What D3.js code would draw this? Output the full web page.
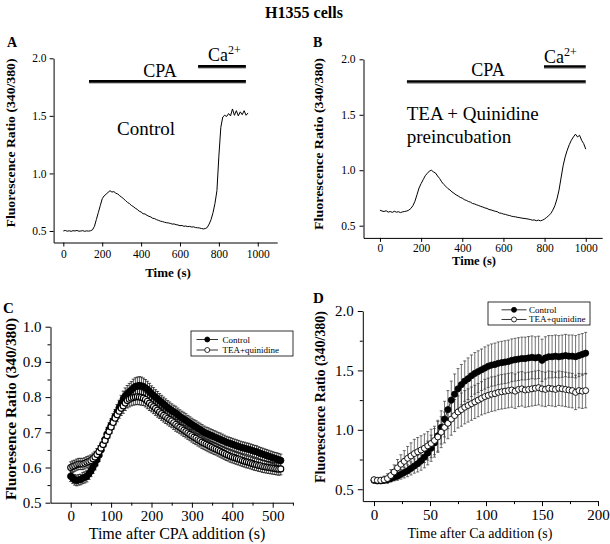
<!DOCTYPE html>
<html><head><meta charset="utf-8">
<script src="https://cdn.jsdelivr.net/npm/d3@7"></script>
<style>
body{margin:0;background:#fff}
text{font-family:"Liberation Serif","Times New Roman",serif;fill:#000}
</style>
</head><body>
<svg id="chart" width="610" height="544"></svg>
<script>
// ---------- DATA ----------
const timeA = [0,10,20,30,40,50,60,70,80,90,100,110,120,130,140,150,160,170,180,190,200,210,220,230,240,250,260,270,280,290,300,310,320,330,340,350,360,370,380,390,400,410,420,430,440,450,460,470,480,490,500,510,520,530,540,550,560,570,580,590,600,610,620,630,640,650,660,670,680,690,700,710,720,730,740,750,760,770,780,790,800,810,820,830,840,850,860,870,880,890,900,910,920,930,940,950];
const ratioA = [.500,.505,.498,.502,.497,.503,.500,.505,.498,.500,.503,.497,.501,.499,.502,
  .510,.540,.600,.660,.720,.780,.805,.820,.835,.850,.838,.842,.828,.822,.805,
  .795,.778,.765,.748,.738,.722,.712,.698,.688,.672,.665,.650,.648,.636,.628,
  .622,.610,.607,.598,.592,.585,.582,.576,.572,.570,.566,.560,.561,.555,.552,
  .546,.548,.541,.543,.538,.540,.534,.536,.530,.528,.526,.522,.518,.521,.530,
  .560,.600,.660,.740,.850,1.150,1.400,1.490,1.505,1.495,1.520,1.500,1.560,1.505,1.545,
  1.500,1.535,1.510,1.545,1.505,1.525];
const timeB = [0,10,20,30,40,50,60,70,80,90,100,110,120,130,140,150,160,170,180,190,200,210,220,230,240,250,260,270,280,290,300,310,320,330,340,350,360,370,380,390,400,410,420,430,440,450,460,470,480,490,500,510,520,530,540,550,560,570,580,590,600,610,620,630,640,650,660,670,680,690,700,710,720,730,740,750,760,770,780,790,800,810,820,830,840,850,860,870,880,890,900,910,920,930,940,950,960,970,980,990,1000];
const ratioB = [.640,.632,.628,.635,.622,.628,.620,.630,.622,.626,.618,.625,.628,.632,.640,
  .655,.680,.720,.780,.840,.880,.915,.950,.972,.992,1.000,.985,.975,.948,.925,
  .895,.872,.855,.835,.822,.805,.792,.778,.768,.755,.748,.735,.728,.718,.712,
  .700,.696,.688,.682,.674,.668,.660,.656,.646,.642,.636,.630,.626,.615,.612,
  .605,.602,.595,.592,.585,.582,.579,.575,.572,.568,.566,.563,.560,.556,.550,
  .552,.545,.550,.544,.550,.560,.575,.590,.610,.640,.680,.740,.820,.930,1.040,
  1.120,1.180,1.230,1.270,1.300,1.325,1.300,1.315,1.270,1.240,1.190];
// annotation bars [start s, end s, ratio level]
const cpaBarA = [132, 939, 1.80], caBarA = [693, 939, 1.93];
const cpaBarB = [131, 1000, 1.80], caBarB = [797, 1000, 1.935];

const timeC = [0,5,10,15,20,25,30,35,40,45,50,55,60,65,70,75,80,85,90,95,
  100,105,110,115,120,125,130,135,140,145,150,155,160,165,170,175,180,185,190,195,
  200,205,210,215,220,225,230,235,240,245,250,255,260,265,270,275,280,285,290,295,
  300,305,310,315,320,325,330,335,340,345,350,355,360,365,370,375,380,385,390,395,
  400,405,410,415,420,425,430,435,440,445,450,455,460,465,470,475,480,485,490,495,
  500,505,510,515,520];
const controlC = [.575,.570,.565,.563,.565,.566,.570,.572,.575,.582,
  .590,.600,.610,.622,.635,.650,.665,.680,.695,.708,
  .720,.733,.745,.758,.770,.783,.795,.803,.810,.815,
  .820,.826,.830,.832,.833,.832,.830,.826,.822,.816,
  .810,.805,.800,.795,.790,.785,.780,.775,.770,.766,
  .762,.758,.755,.750,.745,.741,.738,.734,.730,.726,
  .722,.718,.715,.711,.708,.704,.700,.697,.695,.692,
  .690,.687,.685,.682,.680,.677,.675,.672,.670,.668,
  .666,.664,.662,.660,.658,.656,.655,.653,.652,.650,
  .648,.646,.645,.642,.640,.638,.636,.634,.632,.630,
  .628,.626,.624,.622,.620];
const teaC = [.600,.603,.605,.608,.610,.610,.610,.612,.615,.617,
  .620,.625,.630,.637,.645,.655,.665,.677,.690,.702,
  .715,.728,.740,.750,.760,.768,.775,.783,.790,.794,
  .797,.799,.800,.801,.800,.799,.797,.793,.788,.783,
  .778,.773,.768,.763,.758,.753,.748,.744,.740,.736,
  .732,.727,.722,.718,.714,.710,.706,.702,.698,.694,
  .690,.686,.683,.679,.676,.672,.669,.666,.663,.660,
  .657,.654,.652,.649,.646,.643,.640,.637,.635,.632,
  .630,.628,.626,.624,.622,.620,.618,.616,.615,.613,
  .611,.609,.608,.606,.605,.603,.602,.601,.600,.599,
  .598,.597,.596,.595,.596];
const controlErrC = [.015,.015,.015,.015,.015,.015,.016,.016,.016,.016,
  .016,.017,.017,.017,.018,.018,.018,.018,.019,.019,
  .019,.020,.020,.021,.021,.022,.022,.023,.023,.024,
  .024,.025,.025,.025,.025,.025,.024,.024,.023,.023,
  .022,.022,.021,.021,.020,.020,.020,.020,.020,.020,
  .019,.019,.019,.019,.019,.019,.019,.019,.018,.018,
  .018,.018,.018,.018,.018,.018,.018,.018,.018,.018,
  .018,.018,.018,.018,.018,.018,.017,.017,.017,.017,
  .017,.017,.017,.017,.017,.017,.017,.017,.017,.017,
  .017,.017,.017,.017,.017,.017,.017,.017,.017,.017,
  .017,.017,.018,.018,.018];
const teaErrC = [.016,.016,.016,.016,.016,.016,.016,.016,.016,.016,
  .016,.016,.016,.017,.017,.017,.017,.018,.018,.018,
  .018,.019,.019,.020,.020,.020,.021,.021,.021,.022,
  .022,.022,.022,.022,.022,.022,.021,.021,.021,.021,
  .020,.020,.020,.020,.019,.019,.019,.019,.019,.019,
  .019,.019,.019,.018,.018,.018,.018,.018,.018,.018,
  .018,.018,.018,.018,.018,.018,.018,.018,.018,.018,
  .017,.017,.017,.017,.017,.017,.017,.017,.017,.017,
  .017,.017,.017,.017,.017,.017,.017,.017,.017,.017,
  .017,.017,.017,.017,.017,.017,.017,.017,.017,.017,
  .017,.017,.017,.017,.017];

const timeD = [0,3,6,9,12,15,18,21,24,27,30,33,36,39,42,45,48,51,54,57,60,63,66,69,72,75,78,81,84,87,90,93,96,99,102,105,108,111,114,117,120,123,126,129,132,135,138,141,144,147,150,153,156,159,162,165,168,171,174,177,180,183,186,189];
const controlD = [.575,.570,.570,.575,.580,.590,.600,.610,.625,.640,
  .655,.675,.695,.715,.740,.770,.805,.845,.890,.950,
  1.020,1.090,1.170,1.250,1.300,1.345,1.380,1.410,1.430,1.455,
  1.475,1.490,1.505,1.520,1.535,1.545,1.550,1.560,1.565,1.570,
  1.575,1.585,1.590,1.595,1.600,1.600,1.605,1.610,1.605,1.610,
  1.585,1.605,1.615,1.615,1.620,1.615,1.620,1.625,1.620,1.620,
  1.615,1.625,1.635,1.645];
const teaD = [.580,.575,.575,.580,.590,.615,.645,.680,.710,.735,
  .760,.780,.800,.815,.830,.845,.865,.885,.910,.940,
  .980,1.020,1.055,1.090,1.120,1.150,1.170,1.190,1.205,1.220,
  1.235,1.250,1.265,1.280,1.290,1.300,1.305,1.315,1.320,1.325,
  1.330,1.335,1.325,1.340,1.345,1.335,1.340,1.345,1.350,1.355,
  1.345,1.340,1.350,1.345,1.340,1.350,1.345,1.340,1.335,1.330,
  1.315,1.330,1.325,1.330];
const controlErrD = [.015,.015,.020,.020,.025,.030,.030,.035,.040,.045,
  .050,.055,.060,.070,.080,.090,.100,.110,.120,.130,
  .140,.150,.160,.160,.170,.170,.170,.170,.175,.175,
  .175,.175,.175,.178,.178,.178,.180,.180,.180,.180,
  .180,.180,.180,.180,.180,.180,.180,.180,.178,.178,
  .178,.178,.178,.178,.178,.178,.178,.178,.178,.178,
  .178,.178,.175,.175];
const teaErrD = [.020,.020,.025,.030,.040,.050,.060,.070,.080,.090,
  .100,.110,.120,.120,.120,.120,.120,.120,.120,.130,
  .130,.130,.130,.135,.135,.135,.140,.140,.140,.140,
  .140,.140,.140,.145,.145,.145,.145,.145,.145,.145,
  .145,.145,.145,.145,.145,.145,.145,.145,.145,.145,
  .145,.145,.145,.145,.145,.145,.145,.145,.145,.145,
  .145,.145,.145,.145];

const ticksAB_x = [0,200,400,600,800,1000];
const ticksAB_y = [0.5,1.0,1.5,2.0];
const ticksC_x = [0,100,200,300,400,500], minorC_x = [50,150,250,350,450,550];
const ticksC_y = [0.5,0.6,0.7,0.8,0.9,1.0], minorC_y = [0.55,0.65,0.75,0.85,0.95];
const ticksD_x = [0,50,100,150,200], minorD_x = [25,75,125,175];
const ticksD_y = [0.5,1.0,1.5,2.0], minorD_y = [0.75,1.25,1.75];
const seriesNames = ["Control","TEA+quinidine"];

// ---------- DRAW ----------
const svg = d3.select("#chart");
const f1 = d3.format(".1f");

svg.append("text").attr("x",304).attr("y",18).attr("text-anchor","middle")
  .attr("font-size",16).attr("font-weight","bold").text("H1355 cells");

function axes(g, x, y, o){
  const xb = y.range()[0], xl = x.range()[0];
  const ax = g.append("g").attr("transform",`translate(0,${xb})`)
    .call(d3.axisBottom(x).tickValues(o.xt).tickFormat(d=>d).tickSize(o.ts).tickSizeOuter(0).tickPadding(o.xpad));
  const ay = g.append("g").attr("transform",`translate(${xl},0)`)
    .call(d3.axisLeft(y).tickValues(o.yt).tickFormat(f1).tickSize(o.ts).tickSizeOuter(0).tickPadding(o.ypad));
  [ax,ay].forEach(a=>{
    a.attr("font-family",null);
    a.selectAll("text").attr("font-size",o.fs).attr("fill","#000");
    a.selectAll("line,path").attr("stroke","#000").attr("stroke-width",1);
  });
  if(o.mx){
    g.append("g").attr("transform",`translate(0,${xb})`)
      .call(d3.axisBottom(x).tickValues(o.mx.filter(v=>v>=x.domain()[0]&&v<=x.domain()[1])).tickFormat("").tickSize(3).tickSizeOuter(0))
      .call(s=>{s.select(".domain").remove(); s.selectAll("line").attr("stroke","#000");});
    g.append("g").attr("transform",`translate(${xl},0)`)
      .call(d3.axisLeft(y).tickValues(o.my).tickFormat("").tickSize(3).tickSizeOuter(0))
      .call(s=>{s.select(".domain").remove(); s.selectAll("line").attr("stroke","#000");});
  }
}

function ylab(txt, x, y, fs, len){
  svg.append("text").attr("transform",`translate(${x},${y}) rotate(-90)`)
    .attr("text-anchor","middle").attr("font-size",fs).attr("font-weight","bold")
    .attr("textLength",len).attr("lengthAdjust","spacingAndGlyphs").text(txt);
}
function txt(s, x, y, fs, opts={}){
  const t = svg.append("text").attr("x",x).attr("y",y).attr("font-size",fs).text(s);
  if(opts.bold) t.attr("font-weight","bold");
  if(opts.anchor) t.attr("text-anchor",opts.anchor);
  return t;
}
function caText(x, y){
  const t = svg.append("text").attr("x",x).attr("y",y).attr("font-size",18);
  t.append("tspan").text("Ca");
  t.append("tspan").attr("font-size",12).attr("dy",-7).text("2+");
}
function bar(x, y, b){
  svg.append("line").attr("x1",x(b[0])).attr("x2",x(b[1])).attr("y1",y(b[2])+1.8).attr("y2",y(b[2])+1.8)
    .attr("stroke","#aaa").attr("stroke-width",1.2);
  svg.append("line").attr("x1",x(b[0])).attr("x2",x(b[1])).attr("y1",y(b[2])).attr("y2",y(b[2]))
    .attr("stroke","#000").attr("stroke-width",2.6);
}

// Panel A
{
  const x = d3.scaleLinear().domain([-50,1100]).range([53.6,277.2]);
  const y = d3.scaleLinear().domain([0.4,2.0]).range([242.5,58.3]);
  const g = svg.append("g");
  axes(g,x,y,{xt:ticksAB_x,yt:ticksAB_y,ts:4,xpad:3,ypad:3,fs:11.5});
  g.append("path").datum(timeA.map((t,i)=>[t,ratioA[i]]))
    .attr("d",d3.line().x(d=>x(d[0])).y(d=>y(d[1])))
    .attr("fill","none").attr("stroke","#000").attr("stroke-width",1);
  bar(x,y,cpaBarA); bar(x,y,caBarA);
  txt("CPA", x(497), y(1.84), 18, {anchor:"middle"});
  caText(x(744), y(1.98));
  txt("Control", x(276), y(1.334), 19);
  txt("A", 7, 47, 14, {bold:true});
  ylab("Fluorescence Ratio (340/380)", 14.5, 143, 13, 169);
  txt("Time (s)", 168, 277, 13, {bold:true, anchor:"middle"});
}
// Panel B
{
  const x = d3.scaleLinear().domain([-80,1080]).range([363.5,602.2]);
  const y = d3.scaleLinear().domain([0.39,2.0]).range([237.9,59.3]);
  const g = svg.append("g");
  axes(g,x,y,{xt:ticksAB_x,yt:ticksAB_y,ts:4,xpad:1.5,ypad:4,fs:11.5});
  g.append("path").datum(timeB.map((t,i)=>[t,ratioB[i]]))
    .attr("d",d3.line().x(d=>x(d[0])).y(d=>y(d[1])))
    .attr("fill","none").attr("stroke","#000").attr("stroke-width",1);
  bar(x,y,cpaBarB); bar(x,y,caBarB);
  txt("CPA", x(525), y(1.845), 18, {anchor:"middle"});
  caText(x(797), y(1.967));
  txt("TEA + Quinidine", x(130), y(1.453), 19);
  txt("preincubation", x(130), y(1.244), 19);
  txt("B", 313, 47, 14, {bold:true});
  ylab("Fluorescence Ratio (340/380)", 323, 144, 13, 172);
  txt("Time (s)", 474, 265, 12.5, {bold:true, anchor:"middle"});
}

function errBars(g, x, y, data, cap, ecol){
  const eg = g.append("g").attr("stroke",ecol).attr("stroke-width",0.7);
  data.forEach(d=>{
    eg.append("line").attr("x1",x(d.t)).attr("x2",x(d.t)).attr("y1",y(d.v-d.e)).attr("y2",y(d.v+d.e));
    eg.append("line").attr("x1",x(d.t)-cap).attr("x2",x(d.t)+cap).attr("y1",y(d.v+d.e)).attr("y2",y(d.v+d.e));
    eg.append("line").attr("x1",x(d.t)-cap).attr("x2",x(d.t)+cap).attr("y1",y(d.v-d.e)).attr("y2",y(d.v-d.e));
  });
}
function symbols(g, x, y, data, filled, r, sw){
  g.append("path").datum(data).attr("d",d3.line().x(d=>x(d.t)).y(d=>y(d.v)))
    .attr("fill","none").attr("stroke","#000").attr("stroke-width",0.8);
  g.selectAll(null).data(data).enter().append("circle")
    .attr("cx",d=>x(d.t)).attr("cy",d=>y(d.v)).attr("r",r)
    .attr("fill",filled?"#000":"#fff").attr("stroke","#000").attr("stroke-width",sw);
}
const rows = (t,v,e)=>t.map((tt,i)=>({t:tt,v:v[i],e:e[i]}));
function legend(x0, y0, w, h, fs, lineOff, lineLen, textOff){
  const g = svg.append("g");
  g.append("rect").attr("x",x0).attr("y",y0).attr("width",w).attr("height",h)
    .attr("fill","#fff").attr("stroke","#000").attr("stroke-width",0.8);
  seriesNames.forEach((n,i)=>{
    const yy = y0 + h*(0.34 + i*0.42);
    g.append("line").attr("x1",x0+lineOff).attr("x2",x0+lineOff+lineLen).attr("y1",yy).attr("y2",yy).attr("stroke","#000").attr("stroke-width",0.8);
    g.append("circle").attr("cx",x0+lineOff+lineLen/2).attr("cy",yy).attr("r",2.5)
      .attr("fill",i===0?"#000":"#fff").attr("stroke","#000").attr("stroke-width",0.8);
    g.append("text").attr("x",x0+textOff).attr("y",yy+3).attr("font-size",fs).text(n);
  });
}

// Panel C
{
  const x = d3.scaleLinear().domain([-50,550]).range([50.5,292.9]);
  const y = d3.scaleLinear().domain([0.5,1.0]).range([502.7,326.7]);
  const g = svg.append("g");
  axes(g,x,y,{xt:ticksC_x,yt:ticksC_y,ts:5,xpad:3,ypad:4,fs:15,mx:minorC_x,my:minorC_y});
  const c = rows(timeC,controlC,controlErrC), t = rows(timeC,teaC,teaErrC);
  errBars(g,x,y,c,1.6,"#000");
  symbols(g,x,y,c,true,3.2,0.8);
  errBars(g,x,y,t,1.6,"#000");
  symbols(g,x,y,t,false,3.0,1.1);
  legend(191,331,102,25,9,5.5,21.5,31.5);
  txt("C", 3, 313, 15, {bold:true});
  ylab("Fluoresence Ratio (340/380)", 15.5, 409, 15.5, 182);
  txt("Time after CPA addition (s)", 177, 539, 16, {anchor:"middle"});
}
// Panel D
{
  const x = d3.scaleLinear().domain([-10,200]).range([362.8,598]);
  const y = d3.scaleLinear().domain([0.4,2.0]).range([501.1,311]);
  const g = svg.append("g");
  axes(g,x,y,{xt:ticksD_x,yt:ticksD_y,ts:5,xpad:3,ypad:4,fs:15,mx:minorD_x,my:minorD_y});
  const c = rows(timeD,controlD,controlErrD), t = rows(timeD,teaD,teaErrD);
  errBars(g,x,y,c,1.5,"#333");
  errBars(g,x,y,t,1.5,"#333");
  symbols(g,x,y,c,true,3.1,0.8);
  symbols(g,x,y,t,false,3.0,0.9);
  legend(488,302,102,23,9,13.5,25,41);
  txt("D", 313, 303, 15, {bold:true});
  ylab("Fluorescence Ratio (340/380)", 325, 397, 14.5, 172);
  txt("Time after Ca addition (s)", 480, 538, 14, {anchor:"middle"});
}
</script>
</body></html>
